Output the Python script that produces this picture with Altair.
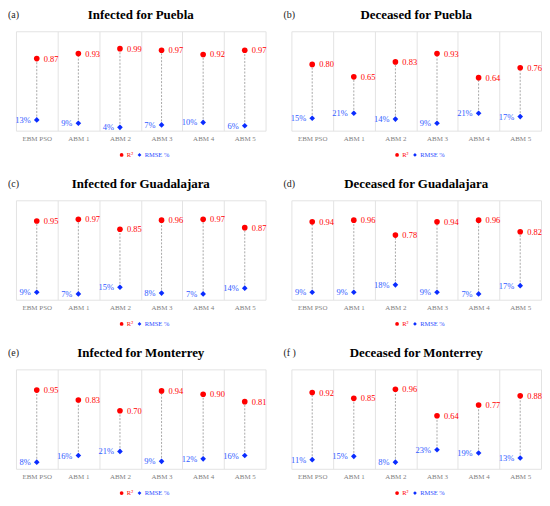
import altair as alt
import pandas as pd

models = ["EBM PSO", "ABM 1", "ABM 2", "ABM 3", "ABM 4", "ABM 5"]
letters = ["(a)", "(b)", "(c)", "(d)", "(e)", "(f )"]
titles = [
    "Infected for Puebla",
    "Deceased for Puebla",
    "Infected for Guadalajara",
    "Deceased for Guadalajara",
    "Infected for Monterrey",
    "Deceased for Monterrey",
]

r2_inf_puebla = [0.87, 0.93, 0.99, 0.97, 0.92, 0.97]
rmse_inf_puebla = [13, 9, 4, 7, 10, 6]
r2_dec_puebla = [0.80, 0.65, 0.83, 0.93, 0.64, 0.76]
rmse_dec_puebla = [15, 21, 14, 9, 21, 17]
r2_inf_gdl = [0.95, 0.97, 0.85, 0.96, 0.97, 0.87]
rmse_inf_gdl = [9, 7, 15, 8, 7, 14]
r2_dec_gdl = [0.94, 0.96, 0.78, 0.94, 0.96, 0.82]
rmse_dec_gdl = [9, 9, 18, 9, 7, 17]
r2_inf_mty = [0.95, 0.83, 0.70, 0.94, 0.90, 0.81]
rmse_inf_mty = [8, 16, 21, 9, 12, 16]
r2_dec_mty = [0.92, 0.85, 0.96, 0.64, 0.77, 0.88]
rmse_dec_mty = [11, 15, 8, 23, 19, 13]

r2_sets = [r2_inf_puebla, r2_dec_puebla, r2_inf_gdl, r2_dec_gdl, r2_inf_mty, r2_dec_mty]
rmse_sets = [rmse_inf_puebla, rmse_dec_puebla, rmse_inf_gdl, rmse_dec_gdl, rmse_inf_mty, rmse_dec_mty]

metrics = ["R²", "RMSE %"]
y_ticks = [0, 0.2, 0.4, 0.6, 0.8, 1.0, 1.2]

SERIF = "'Liberation Serif', 'Times New Roman', Times, serif"
RED = "#ff0000"
BLUE = "#0a2cff"
BLUE_TXT = "#2f5bff"
GRID = "#e3e3e3"
W, H = 251, 100


def panel(letter, title, r2, rmse):
    wide = pd.DataFrame({
        "model": models,
        "r2": r2,
        "rmse": [v / 100 for v in rmse],
        "r2_label": [f"{v:.2f}" for v in r2],
        "rmse_label": [f"{v}%" for v in rmse],
    })
    long = pd.DataFrame({
        "model": models + models,
        "metric": [metrics[0]] * len(models) + [metrics[1]] * len(models),
        "value": list(r2) + [v / 100 for v in rmse],
    })

    x = alt.X(
        "model:N",
        sort=models,
        scale=alt.Scale(type="band", paddingInner=0, paddingOuter=0),
        axis=alt.Axis(
            title=None, tickBand="extent", ticks=False, domain=False,
            labelFont=SERIF, labelFontSize=7, labelColor="#7f7f7f",
            labelPadding=4, labelAngle=0, grid=True, gridColor=GRID,
        ),
    )
    yscale = alt.Scale(domain=[0, 1.2], nice=False, zero=True)
    yaxis = alt.Axis(
        title=None, labels=False, ticks=False, domain=False,
        values=y_ticks, grid=True, gridColor=GRID,
    )

    base = alt.Chart(wide)
    rule = base.mark_rule(color="#a8a8a8", strokeDash=[2, 1.5], strokeWidth=1).encode(
        x=x,
        y=alt.Y("rmse:Q", scale=yscale, axis=yaxis),
        y2="r2:Q",
    )
    legend = alt.Legend(
        title=None, orient="none", legendX=103, legendY=H + 21,
        direction="horizontal", labelFont=SERIF, labelFontSize=6.5,
        labelColor=alt.ExprRef(expr="datum.value == 'R²' ? '#ff0000' : '#2a4cff'"),
        symbolSize=14, labelOffset=2, columnPadding=3, padding=0,
        symbolStrokeWidth=0,
    )
    pts = alt.Chart(long).mark_point(filled=True, opacity=1, size=32).encode(
        x=x,
        y=alt.Y("value:Q", scale=yscale, axis=yaxis),
        color=alt.Color("metric:N", scale=alt.Scale(domain=metrics, range=[RED, BLUE]), legend=legend),
        shape=alt.Shape("metric:N", scale=alt.Scale(domain=metrics, range=["circle", "diamond"]), legend=legend),
    )
    t_r2 = base.mark_text(align="left", baseline="middle", dx=7, font=SERIF, fontSize=8.5, color=RED).encode(
        x=x, y=alt.Y("r2:Q", scale=yscale), text="r2_label:N"
    )
    t_rmse = base.mark_text(align="right", baseline="middle", dx=-6, font=SERIF, fontSize=8.5, color=BLUE_TXT).encode(
        x=x, y=alt.Y("rmse:Q", scale=yscale), text="rmse_label:N"
    )
    lab = alt.Chart(pd.DataFrame({"t": [letter]})).mark_text(
        align="left", baseline="middle", font=SERIF, fontSize=10, color="#222222"
    ).encode(x=alt.value(-8), y=alt.value(-16), text="t:N")

    return alt.layer(rule, pts, t_r2, t_rmse, lab).properties(
        width=W, height=H,
        title=alt.TitleParams(
            title, font=SERIF, fontSize=13, fontWeight="bold", color="#000000",
            anchor="middle", frame="group", baseline="alphabetic", offset=-10, dy=12,
        ),
    )


panels = [panel(letters[i], titles[i], r2_sets[i], rmse_sets[i]) for i in range(6)]

chart = alt.concat(
    *panels, columns=2, spacing={"row": 70, "column": 26}, bounds="flush"
).resolve_scale(color="independent", shape="independent").properties(
    padding=0
).configure_view(stroke=None)

chart.save("out.html", embed_options={"renderer": "svg", "actions": False})
